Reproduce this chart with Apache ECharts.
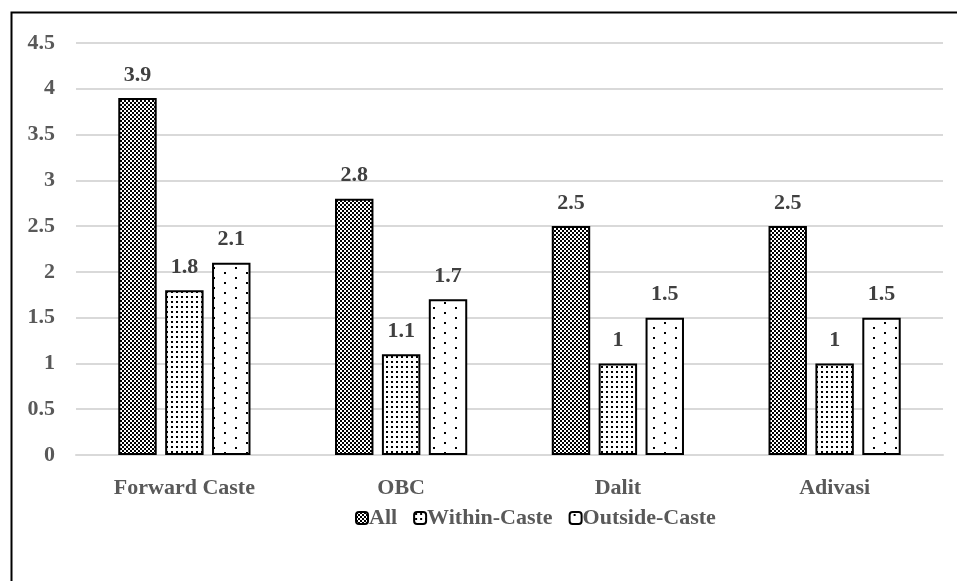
<!DOCTYPE html>
<html>
<head>
<meta charset="utf-8">
<script src="https://cdn.jsdelivr.net/npm/echarts@6/dist/echarts.min.js"></script>
<style>
  html, body { margin: 0; padding: 0; background: #fff; }
  #chart { width: 957px; height: 581px; }
</style>
</head>
<body>
<div id="chart"></div>
<script>
// Average counts by caste group
const categories = ['Forward Caste', 'OBC', 'Dalit', 'Adivasi'];
const allValues = [3.9, 2.8, 2.5, 2.5];
const withinCaste = [1.8, 1.1, 1, 1];
const outsideCaste = [2.1, 1.7, 1.5, 1.5];
const seriesNames = ['All', 'Within-Caste', 'Outside-Caste'];

// Fill patterns drawn onto small tiles
function tile(w, h, draw) {
  const c = document.createElement('canvas');
  c.width = w; c.height = h;
  const g = c.getContext('2d');
  g.fillStyle = '#fff'; g.fillRect(0, 0, w, h);
  g.fillStyle = '#000';
  draw(g);
  return c;
}
const checker = tile(4, 4, g => { g.fillRect(0, 0, 2, 2); g.fillRect(2, 2, 2, 2); });
const denseDots = tile(5, 5, g => { g.fillRect(1, 1, 2, 2); });
const sparseDots = tile(22, 10, g => { g.fillRect(4, 2, 2, 2); g.fillRect(15, 7, 2, 2); });
const fills = [checker, denseDots, sparseDots].map(t => ({ image: t, repeat: 'repeat' }));

const textFont = 'Liberation Serif, Times New Roman, serif';
const chart = echarts.init(document.getElementById('chart'));

function barSeries(name, data, i) {
  return {
    name, type: 'bar', data,
    barGap: '22%', barCategoryGap: '39%',
    itemStyle: { color: fills[i], borderColor: '#000', borderWidth: 2 },
    label: {
      show: true, position: 'top', distance: 12,
      fontFamily: textFont, fontWeight: 'bold', fontSize: 22, color: '#404040'
    }
  };
}

chart.setOption({
  animation: false,
  backgroundColor: '#fff',
  graphic: [{
    type: 'rect', left: 9, top: 10, z: 100, silent: true,
    shape: { width: 960, height: 580 },
    style: { fill: 'none', stroke: '#000', lineWidth: 2 }
  }],
  grid: { left: 76, right: 14, top: 43, bottom: 126, containLabel: false },
  legend: {
    bottom: 47, left: 350,
    itemWidth: 12, itemHeight: 12, itemGap: 16,
    textStyle: { fontFamily: textFont, fontWeight: 'bold', fontSize: 22, color: '#595959', padding: [0, 0, 0, -4] },
    data: seriesNames,
    itemStyle: { borderColor: '#000', borderWidth: 2 }
  },
  xAxis: {
    type: 'category', data: categories,
    axisLine: { show: true, lineStyle: { color: '#d9d9d9', width: 2 } },
    axisTick: { show: false },
    axisLabel: { margin: 22, fontFamily: textFont, fontWeight: 'bold', fontSize: 22, color: '#595959' }
  },
  yAxis: {
    type: 'value', min: 0, max: 4.5, interval: 0.5,
    axisLine: { show: false }, axisTick: { show: false },
    splitLine: { lineStyle: { color: '#d9d9d9', width: 2 } },
    axisLabel: { margin: 21, fontFamily: textFont, fontWeight: 'bold', fontSize: 22, color: '#595959' }
  },
  series: [
    barSeries(seriesNames[0], allValues, 0),
    barSeries(seriesNames[1], withinCaste, 1),
    barSeries(seriesNames[2], outsideCaste, 2)
  ]
});
</script>
</body>
</html>
